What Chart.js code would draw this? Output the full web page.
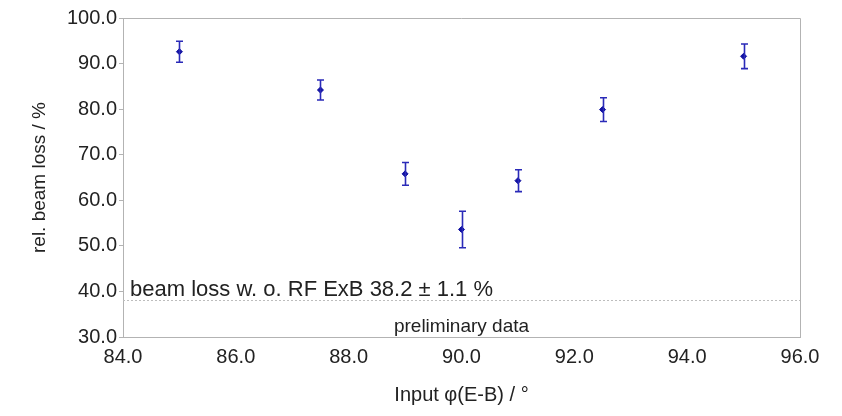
<!DOCTYPE html>
<html>
<head>
<meta charset="utf-8">
<script src="https://cdn.jsdelivr.net/npm/chart.js@4"></script>
<style>
  html, body { margin: 0; padding: 0; background: #fff; }
  #wrap { width: 842px; height: 416px; }
</style>
</head>
<body>
<div id="wrap"><canvas id="chart"></canvas></div>
<script>
// measured points
const phase = [85.0, 87.5, 89.0, 90.0, 91.0, 92.5, 95.0];
const beamLoss = [92.6, 84.2, 65.8, 53.6, 64.3, 79.9, 91.6];
const lossErr = [2.3, 2.2, 2.5, 4.0, 2.4, 2.6, 2.7];

// reference without RF ExB
const refLoss = 38.2;
const refLabel = 'beam loss w. o. RF ExB 38.2 ± 1.1 %';
const noteLabel = 'preliminary data';
const xTitle = 'Input φ(E-B) / °';
const yTitle = 'rel. beam loss / %';

const font = 'Liberation Sans, Arial, sans-serif';
const axisGrey = '#b3b3b3';
const textCol = '#222';

const errorBars = {
  id: 'errorBars',
  afterDatasetsDraw(chart) {
    const ctx = chart.ctx;
    const x = chart.scales.x, y = chart.scales.y;
    ctx.save();
    ctx.strokeStyle = '#2a2ab8';
    ctx.lineWidth = 1.6;
    phase.forEach((p, i) => {
      const px = Math.round(x.getPixelForValue(p)) + 0.5;
      const top = y.getPixelForValue(beamLoss[i] + lossErr[i]);
      const bot = y.getPixelForValue(beamLoss[i] - lossErr[i]);
      ctx.beginPath();
      ctx.moveTo(px, top); ctx.lineTo(px, bot);
      ctx.moveTo(px - 3.5, top); ctx.lineTo(px + 3.5, top);
      ctx.moveTo(px - 3.5, bot); ctx.lineTo(px + 3.5, bot);
      ctx.stroke();
    });
    ctx.restore();
  }
};

const reference = {
  id: 'reference',
  beforeDatasetsDraw(chart) {
    const ctx = chart.ctx;
    const area = chart.chartArea;
    const py = Math.round(chart.scales.y.getPixelForValue(refLoss)) + 0.5;
    ctx.save();
    ctx.strokeStyle = '#bdbdbd';
    ctx.lineWidth = 1;
    ctx.setLineDash([2, 2]);
    ctx.beginPath();
    ctx.moveTo(area.left, py);
    ctx.lineTo(area.right, py);
    ctx.stroke();
    ctx.setLineDash([]);
    ctx.fillStyle = textCol;
    ctx.font = '22px ' + font;
    ctx.textBaseline = 'alphabetic';
    ctx.textAlign = 'left';
    ctx.fillText(refLabel, area.left + 7, py - 5);
    ctx.textAlign = 'center';
    ctx.font = '19px ' + font;
    ctx.fillText(noteLabel, chart.scales.x.getPixelForValue(90), area.bottom - 5);
    // frame
    ctx.strokeStyle = axisGrey;
    ctx.beginPath();
    ctx.moveTo(area.left, area.top + 0.5);
    ctx.lineTo(area.right + 0.5, area.top + 0.5);
    ctx.lineTo(area.right + 0.5, area.bottom);
    ctx.stroke();
    // axis titles
    ctx.fillStyle = textCol;
    ctx.font = '20px ' + font;
    ctx.textBaseline = 'middle';
    ctx.fillText(xTitle, (area.left + area.right) / 2, 395);
    ctx.font = '19px ' + font;
    ctx.translate(40, (area.top + area.bottom) / 2);
    ctx.rotate(-Math.PI / 2);
    ctx.fillText(yTitle, 0, 0);
    ctx.restore();
  }
};

new Chart(document.getElementById('chart'), {
  type: 'scatter',
  data: {
    datasets: [{
      label: 'rel. beam loss',
      data: phase.map((p, i) => ({ x: p, y: beamLoss[i] })),
      backgroundColor: '#1010a0',
      borderColor: '#1010a0',
      pointStyle: 'rectRot',
      pointRadius: 3
    }]
  },
  options: {
    responsive: true,
    maintainAspectRatio: false,
    animation: false,
    layout: { padding: { top: 18, right: 42, left: 0, bottom: 0 } },
    plugins: { legend: { display: false }, tooltip: { enabled: false } },
    scales: {
      x: {
        min: 84, max: 96,
        ticks: { stepSize: 2, color: textCol, font: { family: font, size: 20 },
                 callback: v => v.toFixed(1), maxRotation: 0, padding: 4 },
        grid: { display: false, drawOnChartArea: false, tickLength: 4, color: axisGrey },
        border: { color: axisGrey },
        afterFit(s) { s.height = 79; }
      },
      y: {
        min: 30, max: 100,
        ticks: { stepSize: 10, color: textCol, font: { family: font, size: 20 },
                 callback: v => v.toFixed(1), padding: 2 },
        grid: { drawOnChartArea: false, tickLength: 4, color: axisGrey },
        border: { color: axisGrey },
        afterFit(s) { s.width = 123; }
      }
    }
  },
  plugins: [reference, errorBars]
});
</script>
</body>
</html>
